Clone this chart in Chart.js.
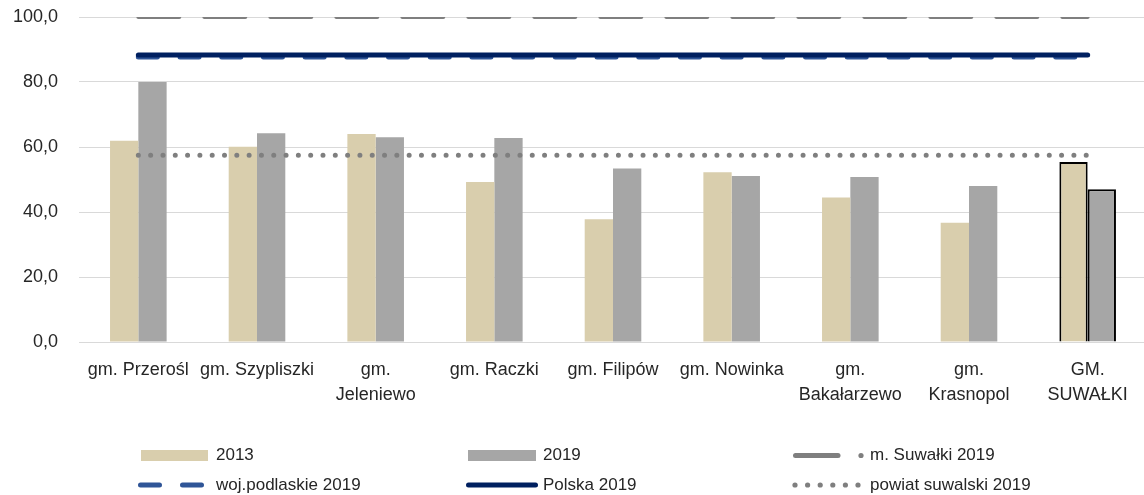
<!DOCTYPE html>
<html><head><meta charset="utf-8">
<script src="https://cdn.jsdelivr.net/npm/chart.js@4.4.0/dist/chart.umd.min.js"></script>
<style>html,body{margin:0;padding:0;background:#fff;overflow:hidden;} #wrap{width:1147px;height:495px;}</style>
</head><body><div id="wrap"><canvas id="c" width="1147" height="495"></canvas></div>
<script>
const categories = ["gm. Przerośl", "gm. Szypliszki", ["gm.", "Jeleniewo"], "gm. Raczki", "gm. Filipów", "gm. Nowinka", ["gm.", "Bakałarzewo"], ["gm.", "Krasnopol"], ["GM.", "SUWAŁKI"]];
const values2013 = [61.9, 60.1, 64.0, 49.2, 37.8, 52.2, 44.5, 36.7, 55.4];
const values2019 = [80.0, 64.2, 63.0, 62.8, 53.4, 51.1, 50.8, 48.0, 47.0];
const suwalkiCity2019 = [100.0, 100.0, 100.0, 100.0, 100.0, 100.0, 100.0, 100.0, 100.0];
const podlaskie2019 = [87.7, 87.7, 87.7, 87.7, 87.7, 87.7, 87.7, 87.7, 87.7];
const polska2019 = [88.3, 88.3, 88.3, 88.3, 88.3, 88.3, 88.3, 88.3, 88.3];
const powiat2019 = [57.5, 57.5, 57.5, 57.5, 57.5, 57.5, 57.5, 57.5, 57.5];
const yTicks = [0, 20, 40, 60, 80, 100];
const seriesLabels = ["2013", "2019", "m. Suwałki 2019", "woj.podlaskie 2019", "Polska 2019", "powiat suwalski 2019"];

const TAN = '#D9CEAD', GRAY = '#A6A6A6', LGRAY = '#7F7F7F', BLUE = '#2F5597', NAVY = '#002060';
const FONT = '"Liberation Sans", Arial, sans-serif';
const lastIdx = categories.length - 1;

const legendPlugin = {
  id: 'customLegend',
  afterDraw(chart) {
    const ctx = chart.ctx;
    ctx.save();
    const y1 = 455.5, y2 = 485;
    ctx.fillStyle = TAN; ctx.fillRect(141, 450, 67, 11);
    ctx.fillStyle = GRAY; ctx.fillRect(468, 450, 68, 11);
    ctx.lineCap = 'round';
    ctx.strokeStyle = LGRAY; ctx.lineWidth = 5;
    ctx.beginPath(); ctx.moveTo(795.5, y1); ctx.lineTo(838, y1); ctx.stroke();
    ctx.fillStyle = LGRAY; ctx.beginPath(); ctx.arc(861, y1, 2.6, 0, Math.PI * 2); ctx.fill();
    ctx.strokeStyle = BLUE; ctx.lineWidth = 5;
    ctx.beginPath(); ctx.moveTo(140.5, y2); ctx.lineTo(159.5, y2); ctx.moveTo(182.5, y2); ctx.lineTo(201.5, y2); ctx.stroke();
    ctx.strokeStyle = NAVY;
    ctx.beginPath(); ctx.moveTo(468.5, y2); ctx.lineTo(535.5, y2); ctx.stroke();
    ctx.fillStyle = LGRAY;
    for (let i = 0; i < 6; i++) { ctx.beginPath(); ctx.arc(795 + 12.6 * i, y2, 2.6, 0, Math.PI * 2); ctx.fill(); }
    ctx.fillStyle = '#262626';
    ctx.font = '17px ' + FONT;
    ctx.textBaseline = 'middle'; ctx.textAlign = 'left';
    ctx.fillText(seriesLabels[0], 216, y1);
    ctx.fillText(seriesLabels[1], 543, y1);
    ctx.fillText(seriesLabels[2], 870, y1);
    ctx.fillText(seriesLabels[3], 216, y2);
    ctx.fillText(seriesLabels[4], 543, y2);
    ctx.fillText(seriesLabels[5], 870, y2);
    ctx.restore();
  }
};

const lineBase = { type: 'line', pointRadius: 0, pointHoverRadius: 0, fill: false, tension: 0, borderCapStyle: 'round' };

new Chart(document.getElementById('c'), {
  data: {
    labels: categories,
    datasets: [
      { type: 'bar', label: seriesLabels[0], data: values2013, backgroundColor: TAN,
        borderColor: categories.map((c, i) => i === lastIdx ? '#000' : 'rgba(0,0,0,0)'),
        borderWidth: categories.map((c, i) => i === lastIdx ? 2 : 0), order: 9 },
      { type: 'bar', label: seriesLabels[1], data: values2019, backgroundColor: GRAY,
        borderColor: categories.map((c, i) => i === lastIdx ? '#000' : 'rgba(0,0,0,0)'),
        borderWidth: categories.map((c, i) => i === lastIdx ? 2 : 0), order: 10 },
      Object.assign({}, lineBase, { label: seriesLabels[2], data: suwalkiCity2019, borderColor: LGRAY, borderWidth: 4, borderDash: [41, 25], clip: 0, order: 4 }),
      Object.assign({}, lineBase, { label: seriesLabels[3], data: podlaskie2019, borderColor: BLUE, borderWidth: 5, borderDash: [19, 22.7], order: 3 }),
      Object.assign({}, lineBase, { label: seriesLabels[4], data: polska2019, borderColor: NAVY, borderWidth: 5, order: 2 }),
      Object.assign({}, lineBase, { label: seriesLabels[5], data: powiat2019, borderColor: LGRAY, borderWidth: 5, borderDash: [0.01, 12.3], order: 1 })
    ]
  },
  options: {
    responsive: false,
    animation: false,
    devicePixelRatio: 1,
    layout: { padding: { top: 17, left: 0, right: 0, bottom: 73 } },
    datasets: { bar: { barPercentage: 1, categoryPercentage: 0.477 } },
    plugins: { legend: { display: false }, tooltip: { enabled: false } },
    scales: {
      x: {
        grid: { display: false, drawTicks: false },
        border: { display: false },
        ticks: { color: '#262626', font: { family: FONT, size: 18, lineHeight: 1.4 }, padding: 15, maxRotation: 0, autoSkip: false },
        afterFit(s) { s.height = 80; s.paddingLeft = 0; s.paddingRight = 0; }
      },
      y: {
        min: 0, max: 100,
        afterBuildTicks(s) { s.ticks = yTicks.map(v => ({ value: v })); },
        grid: { color: '#D9D9D9', lineWidth: 1, drawTicks: false },
        border: { display: false },
        ticks: { color: '#262626', font: { family: FONT, size: 18 }, padding: 21,
          callback: v => Number(v).toFixed(1).replace('.', ',') },
        afterFit(s) { s.width = 79; s.paddingTop = 0; s.paddingBottom = 0; }
      }
    }
  },
  plugins: [legendPlugin]
});
</script></body></html>
